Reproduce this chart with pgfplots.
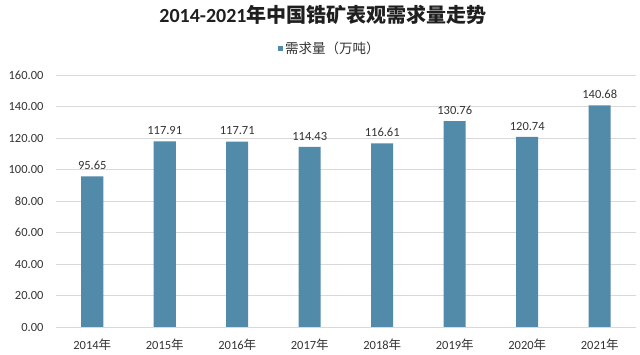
\documentclass[border=0pt]{standalone}
\usepackage{fontspec}
\setmainfont{Carlito}
\newfontfamily\cjk{Noto Sans CJK SC}
\usepackage{pgfplots}
\pgfplotsset{compat=1.18}
\definecolor{barc}{HTML}{528BAA}
\definecolor{txt}{HTML}{333333}
\begin{document}
\begin{tikzpicture}[x=1pt,y=1pt]
\path[use as bounding box] (0,0) rectangle (640,355);
\begin{axis}[at={(56pt,28pt)}, anchor=south west, scale only axis,
  width=580pt, height=252pt,
  ymin=0, ymax=160, ytick={0,20,...,160},
  xmin=-0.5, xmax=7.5, xtick={0,...,7},
  xticklabels={2014{\cjk 年},2015{\cjk 年},2016{\cjk 年},2017{\cjk 年},2018{\cjk 年},2019{\cjk 年},2020{\cjk 年},2021{\cjk 年}},
  axis line style={draw=none}, tick style={draw=none},
  ymajorgrids, grid style={black!15, line width=0.8pt},
  /pgf/number format/assume math mode=true,
  yticklabel={\pgfmathprintnumber[fixed,fixed zerofill,precision=2]{\tick}},
  ticklabel style={font=\fontsize{12.5}{14}\selectfont, text=txt},
  yticklabel style={xshift=-9pt},
  xticklabel style={yshift=-4pt},
  ybar, bar width=22pt,
  nodes near coords={\pgfmathprintnumber[fixed,fixed zerofill,precision=2]{\pgfplotspointmeta}},
  nodes near coords style={font=\fontsize{12.5}{14}\selectfont, text=txt, yshift=3pt},
  legend style={at={(0.472,1.107)}, anchor=center, draw=none, fill=none,
    font=\cjk\fontsize{13.5}{15}\selectfont, text=txt},
  legend image code/.code={\fill[barc] (0pt,-2.5pt) rectangle (5pt,2.5pt);},
]
\addplot[fill=barc, draw=none] coordinates {(0,95.65) (1,117.91) (2,117.71) (3,114.43) (4,116.61) (5,130.76) (6,120.74) (7,140.68)};
\addlegendentry{需求量（万吨）}
\end{axis}
\node[font=\fontsize{20}{22}\selectfont, text=black!88] at (323,340) {\bfseries 2014-2021{\cjk\bfseries 年中国锆矿表观需求量走势}};
\end{tikzpicture}
\end{document}
